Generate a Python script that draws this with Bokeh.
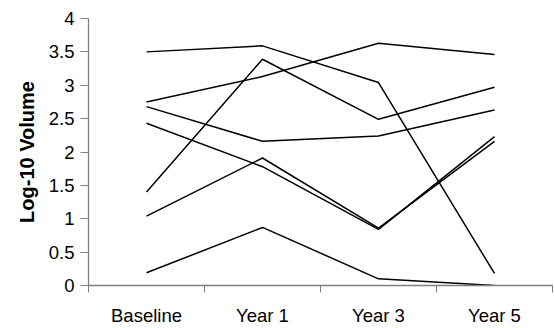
from bokeh.plotting import figure
from bokeh.models import Range1d, FixedTicker
from bokeh.embed import file_html
from bokeh.resources import INLINE

categories = ["Baseline", "Year 1", "Year 3", "Year 5"]
series_1 = [3.50, 3.59, 3.04, 0.18]
series_2 = [2.75, 3.13, 3.63, 3.46]
series_3 = [1.40, 3.39, 2.49, 2.97]
series_4 = [2.68, 2.16, 2.24, 2.63]
series_5 = [2.43, 1.78, 0.84, 2.23]
series_6 = [1.04, 1.91, 0.86, 2.16]
series_7 = [0.19, 0.87, 0.10, 0.00]
all_series = [series_1, series_2, series_3, series_4, series_5, series_6, series_7]
y_ticks = [0, 0.5, 1, 1.5, 2, 2.5, 3, 3.5, 4]

xs = [i + 0.5 for i in range(len(categories))]

p = figure(width=554, height=328, output_backend="svg", toolbar_location=None,
           x_range=Range1d(0, 4), y_range=Range1d(0, 4),
           min_border_left=88, min_border_right=2, min_border_top=18, min_border_bottom=42)
p.outline_line_color = None
p.grid.visible = False
p.background_fill_color = "white"

for s in all_series:
    p.line(xs, s, line_color="black", line_width=1.5)

font = "Liberation Sans"
ax = p.xaxis[0]
ax.ticker = FixedTicker(ticks=xs, minor_ticks=list(range(len(categories) + 1)))
ax.major_label_overrides = {x: c for x, c in zip(xs, categories)}
ax.major_tick_out = 0
ax.major_tick_in = 0
ax.minor_tick_out = 7
ax.minor_tick_in = 0
ax.minor_tick_line_color = "#808080"
ax.axis_line_color = "#808080"
ax.axis_line_width = 1.3
ax.major_label_text_font = font
ax.major_label_text_font_size = "18.5px"
ax.major_label_text_color = "black"
ax.major_label_standoff = 12

ay = p.yaxis[0]
ay.ticker = FixedTicker(ticks=y_ticks)
ay.minor_tick_line_color = None
ay.major_tick_out = 8
ay.major_tick_in = 0
ay.major_tick_line_color = "#808080"
ay.axis_line_color = "#808080"
ay.axis_line_width = 1.3
ay.major_label_text_font = font
ay.major_label_text_font_size = "18.5px"
ay.major_label_text_color = "black"
ay.major_label_standoff = 6
ay.axis_label = "Log-10 Volume"
ay.axis_label_text_font = font
ay.axis_label_text_font_style = "bold"
ay.axis_label_text_font_size = "20px"
ay.axis_label_text_color = "black"
ay.axis_label_standoff = 8

open("out.html", "w").write(file_html(p, INLINE))
